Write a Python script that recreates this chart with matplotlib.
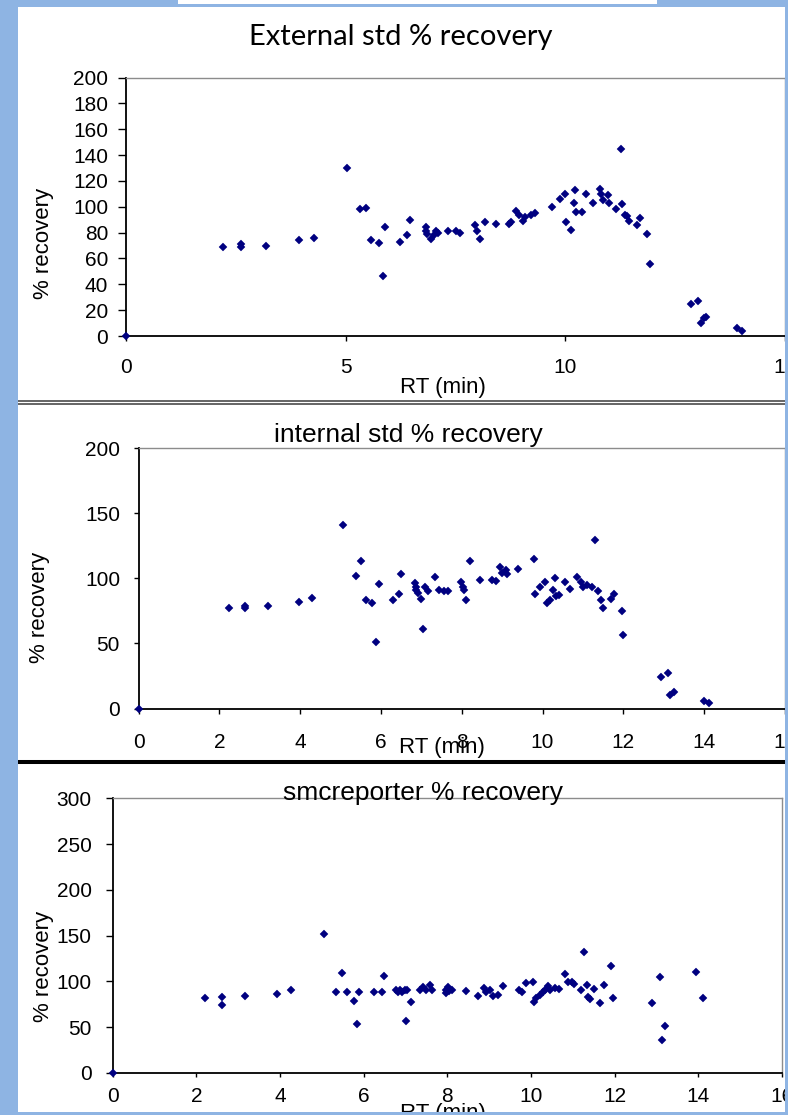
import matplotlib
matplotlib.use('Agg')
import matplotlib.pyplot as plt
from matplotlib.patches import Rectangle
from matplotlib.lines import Line2D

plt.rcParams['font.family'] = ['Liberation Sans', 'DejaVu Sans']

# external std % recovery
rt_ext = [0, 2.21, 2.61, 2.61, 3.18, 3.93, 4.27, 5.02, 5.33, 5.47,
          5.58, 5.75, 5.89, 5.84, 6.24, 6.40, 6.46, 6.82, 6.83, 6.85,
          6.95, 7.0, 7.05, 7.1, 7.34, 7.51, 7.6, 7.94, 8.0, 8.06,
          8.17, 8.42, 8.71, 8.77, 8.88, 8.94, 9.03, 9.08, 9.22, 9.32,
          9.70, 9.87, 10.0, 10.02, 10.14, 10.23, 10.2, 10.25, 10.37, 10.48,
          10.63, 10.78, 10.82, 10.86, 10.96, 11.0, 11.16, 11.26, 11.3, 11.35,
          11.4, 11.46, 11.62, 11.71, 11.87, 11.93, 12.85, 13.01, 13.08, 13.16,
          13.2, 13.9, 14.02]
rec_ext = [0, 68.6, 69, 71, 70, 74, 76, 130, 98, 99,
           74, 72, 84, 46.5, 73, 78, 90, 84, 81, 79,
           75, 78, 81, 80, 81, 81, 80, 86, 81, 75,
           88, 87, 87, 88, 96.5, 94, 89, 92, 94, 95,
           100, 106, 110, 88, 82, 113, 103, 96, 96, 110,
           103, 114, 110, 105, 109, 103, 98, 145, 102, 94,
           93, 89, 86, 91, 79, 56, 25, 27, 10, 14,
           15, 6, 4]

# internal std % recovery
rt_int = [0, 2.23, 2.63, 2.63, 3.2, 3.96, 4.29, 5.05, 5.38, 5.5,
          5.63, 5.79, 5.88, 5.94, 6.29, 6.45, 6.5, 6.85, 6.86, 6.88,
          6.91, 7.0, 7.04, 7.1, 7.16, 7.35, 7.44, 7.56, 7.66, 7.98,
          8.02, 8.06, 8.1, 8.21, 8.46, 8.75, 8.85, 8.94, 9.0, 9.09,
          9.13, 9.38, 9.78, 9.81, 9.94, 10.06, 10.1, 10.19, 10.25, 10.3,
          10.34, 10.4, 10.56, 10.69, 10.85, 10.94, 11.0, 11.1, 11.22, 11.31,
          11.38, 11.44, 11.5, 11.69, 11.78, 11.96, 12.0, 12.94, 13.1, 13.16,
          13.25, 14.0, 14.13]
rec_int = [0, 77, 77, 79, 79, 82, 85, 141, 102, 113,
           83, 81, 51, 95.5, 83, 88, 103, 96, 93.5, 91,
           89, 84, 61, 93.5, 90.5, 101, 91, 90.5, 90, 97,
           93, 91, 83, 113, 99, 99, 98, 109, 104, 106,
           103, 107, 115, 88, 93.5, 97, 81, 83, 91, 100,
           86, 87, 97, 92, 101, 97, 93.5, 95, 93, 129,
           90, 83, 77, 84, 88, 75, 56.5, 24, 27, 10,
           13, 5.5, 4]

# smcreporter % recovery
rt_smc = [0, 2.2, 2.62, 2.62, 3.17, 3.92, 4.27, 5.05, 5.35, 5.49,
          5.59, 5.77, 5.85, 5.89, 6.25, 6.43, 6.48, 6.77, 6.82, 6.88,
          6.91, 6.98, 7.03, 7.0, 7.14, 7.34, 7.41, 7.49, 7.59, 7.63,
          7.96, 7.97, 8.02, 8.05, 8.1, 8.45, 8.74, 8.87, 8.93, 9.01,
          9.1, 9.22, 9.34, 9.71, 9.79, 9.89, 10.04, 10.06, 10.12, 10.22,
          10.28, 10.34, 10.4, 10.46, 10.58, 10.66, 10.82, 10.88, 10.97, 11.03,
          11.19, 11.27, 11.33, 11.36, 11.42, 11.5, 11.66, 11.75, 11.92, 11.96,
          12.9, 13.08, 13.14, 13.2, 13.94, 14.1]
rec_smc = [0, 81.6, 83, 74, 84, 86, 91, 152, 88.5, 109,
           88.5, 79, 54, 88.5, 88.5, 88.5, 106, 91, 88, 91,
           88, 91, 91, 57, 78, 91, 94, 91, 96, 91,
           87, 91, 94, 90, 91, 90, 84, 93, 89, 91,
           84, 85, 95, 91, 88.5, 98, 99, 78, 82, 85,
           88.5, 91, 95, 91, 93, 92, 108, 99, 99, 97,
           91, 132, 96, 83, 81, 92, 76, 96, 117, 82,
           76, 105, 36, 51.5, 110, 82]

W, H = 788, 1115
BLUE = '#8EB4E3'
NAVY = '#000080'


def fx(px):
    return px / W


def fy(py):
    return 1 - py / H


def make_panel(fig, box, xs, ys, xmax, xstep, ymax, ystep, xpad, ypad, xlen, ylen):
    left, top, right, bottom = box
    ax = fig.add_axes([fx(left), fy(bottom), fx(right - left), (bottom - top) / H])
    ax.plot(xs, ys, linestyle='none', marker='D', ms=4.1, color=NAVY,
            mec=NAVY, mew=0.3, clip_on=False, zorder=3)
    ax.set_xlim(0, xmax)
    ax.set_ylim(0, ymax)
    ax.set_xticks(range(0, xmax + 1, xstep))
    ax.set_yticks(range(0, ymax + 1, ystep))
    ax.tick_params(axis='x', direction='out', length=xlen, width=1, pad=xpad, labelsize=15)
    ax.tick_params(axis='y', direction='out', length=ylen, width=1, pad=ypad, labelsize=15)
    for s in ['left', 'bottom']:
        ax.spines[s].set_color('black')
        ax.spines[s].set_linewidth(1.3)
    for s in ['top', 'right']:
        ax.spines[s].set_color('#8c8c8c')
        ax.spines[s].set_linewidth(1.0)
    return ax


fig = plt.figure(figsize=(W / 100, H / 100), dpi=100)
fig.patch.set_facecolor(BLUE)

# white sheet behind the charts
fig.patches.append(Rectangle((fx(17.5), fy(1112)), fx(785 - 17.5), (1112 - 7) / H,
                             transform=fig.transFigure, facecolor='white',
                             edgecolor='none', zorder=-5))

make_panel(fig, (126, 77.5, 785, 336), rt_ext, rec_ext, 15, 5, 200, 20, 12, 7, 3.6, 5.8)
make_panel(fig, (138.5, 448, 785, 708.5), rt_int, rec_int, 16, 2, 200, 50, 14, 9.7, 3.6, 3.6)
make_panel(fig, (112.7, 798.3, 782, 1073), rt_smc, rec_smc, 16, 2, 300, 50, 7, 10, 2.9, 5)

# titles and axis labels
fig.text(fx(401), fy(37), 'External std % recovery', fontsize=21,
         family=['Lato', 'DejaVu Sans'], ha='center', va='center')
fig.text(fx(408), fy(435), 'internal std % recovery', fontsize=19, ha='center', va='center')
fig.text(fx(423), fy(793), 'smcreporter % recovery', fontsize=19, ha='center', va='center')

for x, y in [(443, 387), (442, 747), (443, 1114)]:
    fig.text(fx(x), fy(y), 'RT (min)', fontsize=16, ha='center', va='center')
for x, y in [(43, 243), (39, 607), (43, 966)]:
    fig.text(fx(x), fy(y), '% recovery', fontsize=16, rotation=90, ha='center', va='center')

# separators between the pasted charts
for y in [400.7, 404.2]:
    fig.lines.append(Line2D([fx(17.5), 1], [fy(y), fy(y)], transform=fig.transFigure,
                            color='#3a3a3a', lw=1.1, zorder=5))
fig.lines.append(Line2D([fx(17.5), 1], [fy(762), fy(762)], transform=fig.transFigure,
                        color='black', lw=2.9, zorder=5))

# blue frame on top so overflowing text gets cut like in the screenshot
for x0, y0, x1, y1 in [(0, 0, 17.5, H), (785, 0, W, H), (0, 1112, W, H), (0, 0, W, 7)]:
    fig.patches.append(Rectangle((fx(x0), fy(y1)), fx(x1 - x0), (y1 - y0) / H,
                                 transform=fig.transFigure, facecolor=BLUE,
                                 edgecolor='none', zorder=10))
fig.patches.append(Rectangle((fx(178), fy(4)), fx(657 - 178), 4 / H,
                             transform=fig.transFigure, facecolor='white',
                             edgecolor='none', zorder=11))

fig.savefig('out.png', dpi=100, facecolor=fig.get_facecolor())
